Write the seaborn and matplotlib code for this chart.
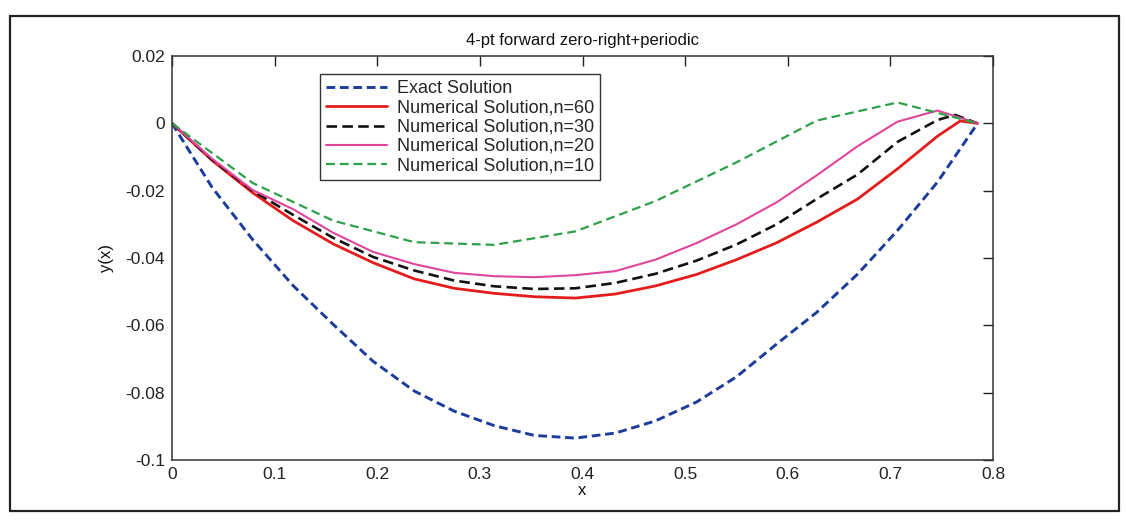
import numpy as np
import pandas as pd
import matplotlib
matplotlib.use("Agg")
import matplotlib.pyplot as plt
import seaborn as sns
from matplotlib.lines import Line2D

# ---- data ----
x_grid = [0.0, 0.039, 0.0785, 0.118, 0.157, 0.196, 0.236, 0.275, 0.314, 0.353,
          0.393, 0.432, 0.471, 0.511, 0.550, 0.589, 0.628, 0.668, 0.707, 0.746, 0.785]

exact_y = [0.0, -0.0190, -0.0345, -0.0482, -0.0597, -0.0707, -0.0795, -0.0855, -0.0898, -0.0927,
           -0.0935, -0.0920, -0.0884, -0.0828, -0.0753, -0.0656, -0.0562, -0.0448, -0.0318, -0.0174, 0.0]

x_n60 = [0.0, 0.039, 0.0785, 0.118, 0.157, 0.196, 0.236, 0.275, 0.314, 0.353,
         0.393, 0.432, 0.471, 0.511, 0.550, 0.589, 0.628, 0.668, 0.707, 0.746, 0.768, 0.785]
n60_y = [0.0, -0.0110, -0.0206, -0.0289, -0.0358, -0.0414, -0.0462, -0.0490, -0.0505, -0.0515,
         -0.0519, -0.0507, -0.0483, -0.0449, -0.0405, -0.0355, -0.0294, -0.0225, -0.0135, -0.0038, 0.0007, 0.0]

x_n30 = [0.0, 0.039, 0.0785, 0.118, 0.157, 0.196, 0.236, 0.275, 0.314, 0.353,
         0.393, 0.432, 0.471, 0.511, 0.550, 0.589, 0.628, 0.668, 0.707, 0.746, 0.763, 0.785]
n30_y = [0.0, -0.0108, -0.0200, -0.0272, -0.0340, -0.0397, -0.0437, -0.0467, -0.0484, -0.0492,
         -0.0490, -0.0474, -0.0447, -0.0408, -0.0360, -0.0300, -0.0225, -0.0152, -0.0055, 0.0010, 0.0025, 0.0]

n20_y = [0.0, -0.0105, -0.0198, -0.0255, -0.0325, -0.0382, -0.0418, -0.0444, -0.0454, -0.0457,
         -0.0451, -0.0439, -0.0405, -0.0356, -0.0300, -0.0235, -0.0155, -0.0068, 0.0005, 0.0038, 0.0]

x_n10 = [0.0, 0.0785, 0.157, 0.236, 0.314, 0.393, 0.471, 0.550, 0.628, 0.707, 0.785]
n10_y = [0.0, -0.0177, -0.0289, -0.0353, -0.0361, -0.0321, -0.0231, -0.0116, 0.0008, 0.0062, 0.0]

labels = ["Exact Solution", "Numerical Solution,n=60", "Numerical Solution,n=30",
          "Numerical Solution,n=20", "Numerical Solution,n=10"]

x_ticks = [0, 0.1, 0.2, 0.3, 0.4, 0.5, 0.6, 0.7, 0.8]
x_ticklabels = ["0", "0.1", "0.2", "0.3", "0.4", "0.5", "0.6", "0.7", "0.8"]
y_ticks = [-0.1, -0.08, -0.06, -0.04, -0.02, 0, 0.02]
y_ticklabels = ["-0.1", "-0.08", "-0.06", "-0.04", "-0.02", "0", "0.02"]

# ---- plotting ----
sns.set_theme(style="white")
plt.rcParams['font.family'] = ['Liberation Sans', 'DejaVu Sans']

W, H = 1126, 520
fig = plt.figure(figsize=(W / 100, H / 100), dpi=100)
ax = fig.add_axes([172 / W, 1 - 460 / H, (993 - 172) / W, (460 - 56) / H])

series = [
    (x_grid, exact_y, "#1c3c9c", (0, (3, 1.6)), 2.1),
    (x_n60, n60_y, "#e41c1c", "-", 2.0),
    (x_n30, n30_y, "#111111", (0, (4, 2)), 1.9),
    (x_grid, n20_y, "#e0449c", "-", 1.5),
    (x_n10, n10_y, "#2fa04a", (0, (4, 2.2)), 1.6),
]
for (xs, ys, c, ls, lw), lab in zip(series, labels):
    df = pd.DataFrame({"x": xs, "y": ys})
    sns.lineplot(data=df, x="x", y="y", ax=ax, color=c, linestyle=ls,
                 linewidth=lw, label=lab, sort=False, estimator=None)

ax.set_xlim(0, 0.8)
ax.set_ylim(-0.1, 0.02)
ax.set_xticks(x_ticks)
ax.set_xticklabels(x_ticklabels)
ax.set_yticks(y_ticks)
ax.set_yticklabels(y_ticklabels)
ax.tick_params(direction="in", length=7, width=1, top=True, right=True,
               labelsize=12.5, colors="#222222", pad=5)
for sp in ax.spines.values():
    sp.set_color("#333333")
    sp.set_linewidth(1.1)

ax.set_title("4-pt forward zero-right+periodic", fontsize=12, pad=8, color="#111111")
ax.set_xlabel("x", fontsize=12, labelpad=1, color="#111111")
ax.set_ylabel("y(x)", fontsize=12, labelpad=8, color="#111111")

leg = ax.legend(loc="upper left", bbox_to_anchor=(0.18, 0.955), fontsize=13,
                frameon=True, fancybox=False, edgecolor="#333333", framealpha=1,
                handlelength=3.4, handletextpad=0.5, labelspacing=0.12,
                borderpad=0.35, borderaxespad=0)
leg.get_frame().set_linewidth(1.0)

# scanned page frame
def fx(p):
    return p / W

def fy(p):
    return 1 - p / H

for (x0, y0, x1, y1) in [(10, 16, 1119, 16), (1119, 16, 1119, 511), (10, 511, 1119, 511), (10, 16, 10, 511)]:
    fig.add_artist(Line2D([fx(x0), fx(x1)], [fy(y0), fy(y1)], color="#222222", lw=1.6))

fig.savefig("out.png", dpi=100, facecolor="white")
